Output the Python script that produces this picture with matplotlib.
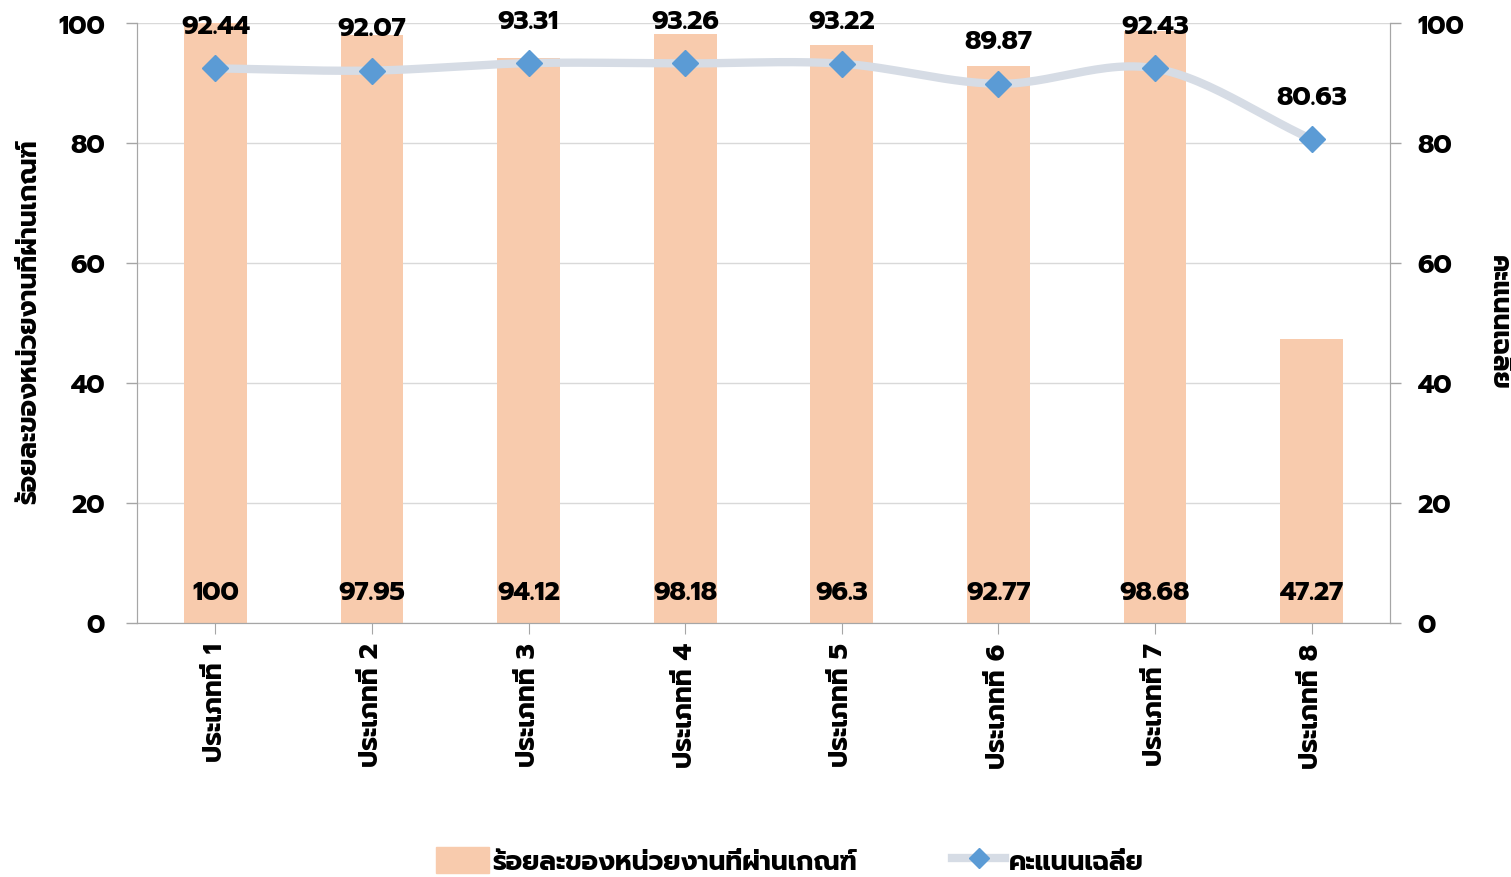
import matplotlib
matplotlib.use("Agg")
import matplotlib.pyplot as plt
from matplotlib.lines import Line2D
from matplotlib.patches import Patch
import numpy as np

categories = ["ประเภทที่ 1", "ประเภทที่ 2", "ประเภทที่ 3", "ประเภทที่ 4",
              "ประเภทที่ 5", "ประเภทที่ 6", "ประเภทที่ 7", "ประเภทที่ 8"]
pass_pct = [100, 97.95, 94.12, 98.18, 96.3, 92.77, 98.68, 47.27]
avg_score = [92.44, 92.07, 93.31, 93.26, 93.22, 89.87, 92.43, 80.63]
bar_label = "ร้อยละของหน่วยงานที่ผ่านเกณฑ์"
line_label = "คะแนนเฉลี่ย"

plt.rcParams["font.family"] = ["Prompt", "DejaVu Sans"]
W, H = 1511, 878
fig = plt.figure(figsize=(W/100, H/100), dpi=100)
ax = fig.add_axes([137/W, 1-624/H, (1390-137)/W, 600/H])
ax2 = ax.twinx()

x = np.arange(len(categories))
ax.bar(x, pass_pct, width=0.4, color="#F8CBAD", zorder=2)
ax.set_xlim(-0.5, len(categories)-0.5)
ax.set_ylim(0, 100)
ax2.set_ylim(0, 100)
ax.set_yticks(range(0, 101, 20))
ax2.set_yticks(range(0, 101, 20))
ax.grid(axis="y", color="#D9D9D9", lw=1, zorder=0)
ax.set_axisbelow(True)

# smooth line rendering (Catmull-Rom through the data points)
def smooth(xs, ys, n=30):
    xs = np.asarray(xs, float); ys = np.asarray(ys, float)
    px = np.concatenate([[2*xs[0]-xs[1]], xs, [2*xs[-1]-xs[-2]]])
    py = np.concatenate([[2*ys[0]-ys[1]], ys, [2*ys[-1]-ys[-2]]])
    ox, oy = [], []
    for i in range(1, len(px)-2):
        t = np.linspace(0, 1, n)
        for arr, out in ((px, ox), (py, oy)):
            p0, p1, p2, p3 = arr[i-1], arr[i], arr[i+1], arr[i+2]
            out.extend(0.5*((2*p1) + (-p0+p2)*t + (2*p0-5*p1+4*p2-p3)*t**2 + (-p0+3*p1-3*p2+p3)*t**3))
    return ox, oy

sx, sy = smooth(x, avg_score)
ax2.plot(sx, sy, color="#D6DCE5", lw=6, solid_capstyle="round", zorder=3)
ax2.plot(x, avg_score, ls="none", marker="D", ms=13, color="#5B9BD5", zorder=4)

fs = 19
fw = "bold"
for xi, v in zip(x, pass_pct):
    ax.text(xi, 5, f"{v:g}", ha="center", va="center", fontsize=fs, fontweight=fw)
for xi, v in zip(x, avg_score):
    ax2.annotate(f"{v:g}", (xi, v), xytext=(0, 42), textcoords="offset pixels",
                 ha="center", va="center", fontsize=fs, fontweight=fw)

ax.set_xticks(x)
ax.set_xticklabels(categories, rotation=90, fontsize=fs, fontweight=fw)
for a in (ax, ax2):
    a.tick_params(axis="y", labelsize=fs, length=8, color="#A6A6A6", width=1)
    for t in a.get_yticklabels():
        t.set_fontweight(fw)
ax.tick_params(axis="x", length=8, color="#A6A6A6", pad=6)
ax.tick_params(axis="y", pad=15)
ax2.tick_params(axis="y", pad=12)

for a in (ax, ax2):
    a.spines["top"].set_visible(False)
    for s in ("left", "right", "bottom"):
        a.spines[s].set_color("#A6A6A6")

fig.text(30/W, 1-322/H, bar_label, rotation=90, ha="center", va="center",
         fontsize=fs, fontweight=fw)
fig.text(1498/W, 1-322/H, line_label, rotation=-90, ha="center", va="center",
         fontsize=fs, fontweight=fw)

handles = [Patch(color="#F8CBAD"),
           Line2D([0], [0], color="#D6DCE5", lw=6, marker="D", ms=10,
                  markerfacecolor="#5B9BD5", markeredgecolor="#5B9BD5")]
fig.legend(handles, [bar_label, line_label], loc="center", bbox_to_anchor=(790/W, 1-862/H),
           ncol=2, frameon=False, prop={"size": fs, "weight": fw},
           handlelength=2.0, handleheight=1.1, columnspacing=3.6, handletextpad=0.15)

fig.savefig("out.png", dpi=100)
